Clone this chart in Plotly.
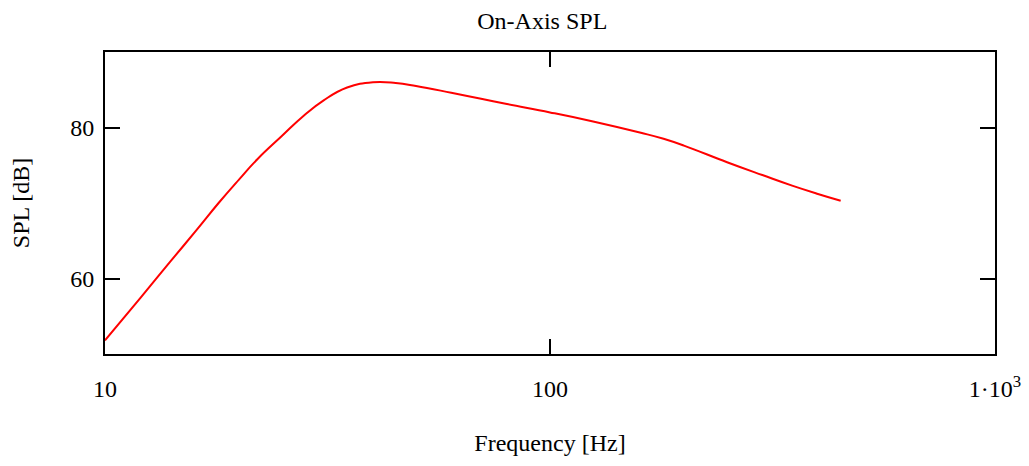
import plotly.graph_objects as go

# Frequency (Hz) and on-axis SPL (dB)
freq_hz = [10, 12, 14, 16, 18, 20, 22, 25, 28, 31, 35, 40, 45, 50, 60, 70, 80,
           100, 125, 160, 180, 200, 250, 300, 350, 400, 450]
spl_db = [51.8, 57.4, 62.2, 66.3, 70.0, 73.1, 75.8, 78.9, 81.6, 83.6, 85.3, 86.0,
          85.9, 85.5, 84.6, 83.8, 83.1, 82.0, 80.8, 79.3, 78.5, 77.6, 75.4, 73.7,
          72.3, 71.2, 70.3]

x_tickvals = [10, 100, 1000]
x_ticktext = ["10", "100", "1\u00b710<sup>3</sup>"]
y_tickvals = [60, 80]

FONT = "Liberation Serif, Times New Roman, serif"

fig = go.Figure()
fig.add_trace(go.Scatter(
    x=freq_hz, y=spl_db, mode="lines",
    line=dict(color="#ff0000", width=2, shape="spline", smoothing=1.3),
    showlegend=False, hoverinfo="x+y",
))

fig.update_layout(
    width=1029, height=466,
    margin=dict(l=105, r=34, t=52, b=112),
    paper_bgcolor="white", plot_bgcolor="white",
    font=dict(family=FONT, size=24, color="black"),
    title=dict(text="On-Axis SPL", x=0.527, xanchor="center", y=0.955, yanchor="middle",
               font=dict(family=FONT, size=24, color="black")),
)

fig.update_xaxes(
    type="log", range=[1, 3],
    tickvals=x_tickvals, ticktext=x_ticktext,
    ticks="inside", ticklen=15, tickwidth=2, tickcolor="black",
    showline=True, linewidth=2, linecolor="black", mirror="ticks",
    showgrid=False, zeroline=False, automargin=False,
    ticklabelstandoff=12,
    title=dict(text="Frequency [Hz]", standoff=33, font=dict(family=FONT, size=24)),
)
fig.update_yaxes(
    range=[50, 90],
    tickvals=y_tickvals,
    ticks="inside", ticklen=15, tickwidth=2, tickcolor="black",
    showline=True, linewidth=2, linecolor="black", mirror="ticks",
    showgrid=False, zeroline=False, automargin=False,
    ticklabelstandoff=4,
    title=dict(text="SPL [dB]", standoff=34, font=dict(family=FONT, size=24)),
)

fig.write_html("out.html")
